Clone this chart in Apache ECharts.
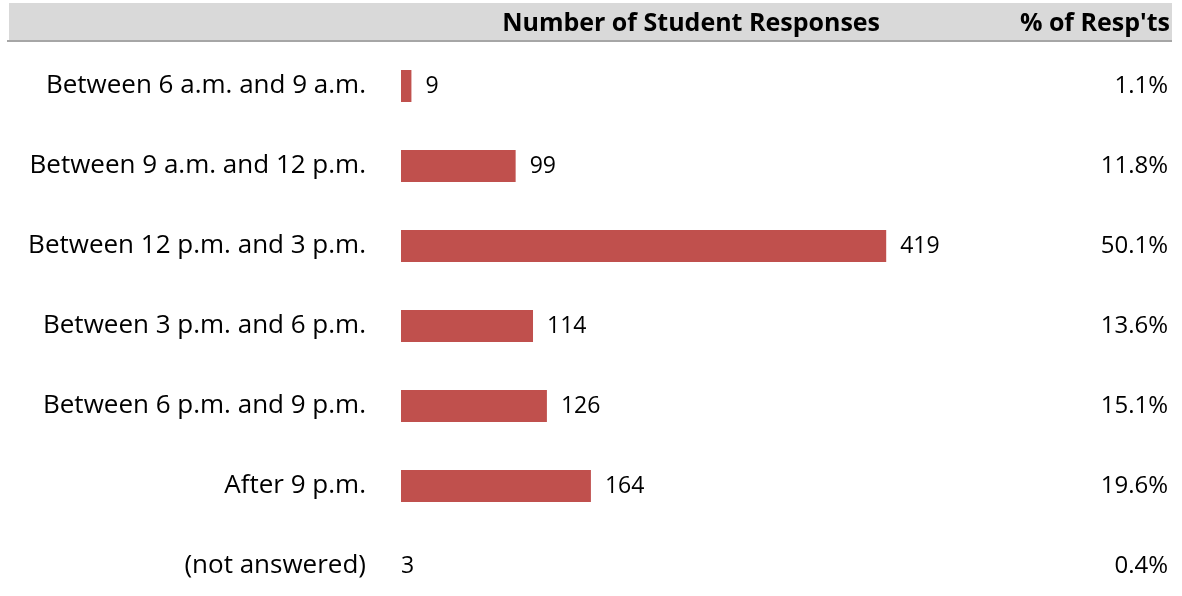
<!DOCTYPE html>
<html>
<head>
<meta charset="utf-8">
<script src="https://cdn.jsdelivr.net/npm/echarts@6/dist/echarts.min.js"></script>
<style>
  html, body { margin: 0; padding: 0; background: #ffffff; }
  #chart { width: 1182px; height: 596px; }
</style>
</head>
<body>
<div id="chart"></div>
<script>
// Time slots, response counts and shares
const categories = [
  'Between 6 a.m. and 9 a.m.',
  'Between 9 a.m. and 12 p.m.',
  'Between 12 p.m. and 3 p.m.',
  'Between 3 p.m. and 6 p.m.',
  'Between 6 p.m. and 9 p.m.',
  'After 9 p.m.',
  '(not answered)'
];
const responses = [9, 99, 419, 114, 126, 164, 3];
const shares = ['1.1%', '11.8%', '50.1%', '13.6%', '15.1%', '19.6%', '0.4%'];
const headerCount = 'Number of Student Responses';
const headerShare = "% of Resp'ts";

const FONT = "'Open Sans', 'Noto Sans', sans-serif";
const BAR = '#c0504d';

const chart = echarts.init(document.getElementById('chart'));

// The unanswered row is shown as a label only
const barData = responses.map((v, i) => {
  if (categories[i] === '(not answered)') {
    return { value: v, itemStyle: { color: 'rgba(0,0,0,0)' }, label: { position: 'insideLeft', distance: 0 } };
  }
  return v;
});

chart.setOption({
  animation: false,
  backgroundColor: '#ffffff',
  grid: { left: 401, width: 579, top: 46, height: 560, containLabel: false, outerBoundsMode: 'none' },
  xAxis: {
    type: 'value', min: 0, max: 500, show: false
  },
  yAxis: [
    {
      type: 'category', data: categories, inverse: true,
      axisLine: { show: false }, axisTick: { show: false }, splitLine: { show: false },
      axisLabel: { margin: 35, fontFamily: FONT, fontSize: 26, color: '#000000' }
    },
    {
      type: 'category', data: shares, inverse: true, position: 'right', offset: 188,
      axisLine: { show: false }, axisTick: { show: false }, splitLine: { show: false },
      axisLabel: { margin: 0, align: 'right', fontFamily: FONT, fontSize: 24, color: '#000000' }
    }
  ],
  series: [{
    type: 'bar', data: barData, barWidth: 32, yAxisIndex: 0,
    itemStyle: { color: BAR },
    label: { show: true, position: 'right', distance: 14, fontFamily: FONT, fontSize: 23, color: '#000000' }
  }],
  graphic: [
    { type: 'rect', shape: { x: 9, y: 3, width: 1163, height: 37 }, style: { fill: '#d9d9d9' }, silent: true },
    { type: 'rect', shape: { x: 7, y: 40, width: 1165, height: 2 }, style: { fill: '#a6a6a6' }, silent: true },
    { type: 'text', x: 880, y: 24, style: { text: headerCount, font: "bold 25px " + FONT, fill: '#000000', textAlign: 'right', textVerticalAlign: 'middle' } },
    { type: 'text', x: 1170, y: 24, style: { text: headerShare, font: "bold 25px " + FONT, fill: '#000000', textAlign: 'right', textVerticalAlign: 'middle' } }
  ]
});
</script>
</body>
</html>
